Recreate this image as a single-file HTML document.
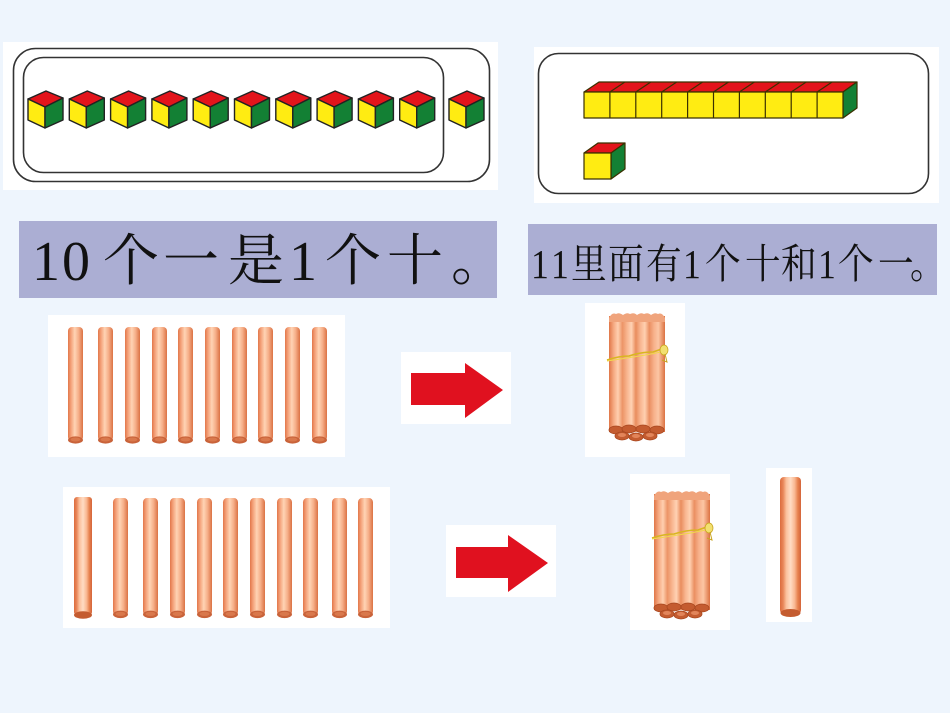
<!DOCTYPE html>
<html><head><meta charset="utf-8"><style>
html,body{margin:0;padding:0;background:#eef5fd;}
svg{display:block;}
</style></head><body>
<svg width="950" height="713" viewBox="0 0 950 713" xmlns="http://www.w3.org/2000/svg">
<defs>
<linearGradient id="st" x1="0" y1="0" x2="1" y2="0">
<stop offset="0" stop-color="#e2774a"/>
<stop offset="0.2" stop-color="#f4a27a"/>
<stop offset="0.45" stop-color="#ffd3b4"/>
<stop offset="0.7" stop-color="#f6b08a"/>
<stop offset="1" stop-color="#db7244"/>
</linearGradient>
<linearGradient id="big" x1="0" y1="0" x2="1" y2="0">
<stop offset="0" stop-color="#dc6c3e"/>
<stop offset="0.15" stop-color="#e9875a"/>
<stop offset="0.3" stop-color="#fbc09c"/>
<stop offset="0.5" stop-color="#ffdcc4"/>
<stop offset="0.7" stop-color="#f9b892"/>
<stop offset="0.85" stop-color="#e7824f"/>
<stop offset="1" stop-color="#d4643a"/>
</linearGradient>
<linearGradient id="bd" x1="0" y1="0" x2="1" y2="0">
<stop offset="0" stop-color="#e07648"/>
<stop offset="0.08" stop-color="#f5a880"/>
<stop offset="0.16" stop-color="#ffcfb0"/>
<stop offset="0.24" stop-color="#ec9466"/>
<stop offset="0.32" stop-color="#f8b48e"/>
<stop offset="0.40" stop-color="#ffd2b4"/>
<stop offset="0.48" stop-color="#e98d5e"/>
<stop offset="0.56" stop-color="#f8b590"/>
<stop offset="0.64" stop-color="#ffd0b0"/>
<stop offset="0.72" stop-color="#ea8f62"/>
<stop offset="0.80" stop-color="#f7b08a"/>
<stop offset="0.88" stop-color="#fcc6a4"/>
<stop offset="1" stop-color="#dc7242"/>
</linearGradient>
<g id="cube">
<polygon points="0,9 18,1 35,8 17,17" fill="#e3141b" stroke="#222" stroke-width="1.4" stroke-linejoin="round"/>
<polygon points="0,9 17,17 17,38 0,30" fill="#ffec12" stroke="#222" stroke-width="1.4" stroke-linejoin="round"/>
<polygon points="17,17 35,8 35,30 17,38" fill="#138034" stroke="#222" stroke-width="1.4" stroke-linejoin="round"/>
</g>
<g id="stick">
<rect x="0" y="0" width="15" height="114" rx="4" fill="url(#st)"/>
<ellipse cx="7.5" cy="113" rx="7.5" ry="3.6" fill="#c9633a"/>
<ellipse cx="7.5" cy="112.5" rx="5" ry="2" fill="#d9784c"/>
</g>
<g id="bundle">
<rect x="0" y="4" width="56" height="116" fill="url(#bd)"/>
<path d="M0,6 Q3,0 7,2 Q10,0 14,3 Q18,0 21,2 Q25,0 28,3 Q32,0 35,2 Q39,0 42,3 Q46,0 49,2 Q53,0 56,6 L56,10 L0,10 Z" fill="#f0a47c"/>
<g fill="#c45c30" stroke="#a8471f" stroke-width="0.8">
<ellipse cx="7" cy="118" rx="7" ry="4"/>
<ellipse cx="20" cy="117" rx="7" ry="4"/>
<ellipse cx="34" cy="117" rx="7" ry="4"/>
<ellipse cx="48" cy="118" rx="7" ry="4"/>
<ellipse cx="13" cy="124" rx="7" ry="4"/>
<ellipse cx="27" cy="125" rx="7" ry="4"/>
<ellipse cx="41" cy="124" rx="7" ry="4"/>
</g>
<g fill="#e2855a">
<ellipse cx="13" cy="123" rx="4" ry="2"/>
<ellipse cx="27" cy="124" rx="4" ry="2"/>
<ellipse cx="41" cy="123" rx="4" ry="2"/>
</g>
<path d="M-2,48 Q10,44 20,44 Q32,40 44,40 Q50,38 55,36" fill="none" stroke="#d9b620" stroke-width="1.6"/>
<path d="M-2,49 Q12,47 24,45 Q38,43 52,40" fill="none" stroke="#f0d84a" stroke-width="1"/>
<ellipse cx="55" cy="38" rx="4" ry="5" fill="#f2e070" stroke="#c8a520" stroke-width="0.8"/>
<path d="M56,42 L58,50 L53,48" fill="none" stroke="#c8a520" stroke-width="1"/>
</g>
</defs>

<!-- top-left panel -->
<rect x="3" y="42" width="495" height="148" fill="#fff"/>
<rect x="13.5" y="48.5" width="476" height="133" rx="22" fill="none" stroke="#333" stroke-width="1.6"/>
<rect x="23.5" y="57.5" width="420" height="115" rx="20" fill="none" stroke="#333" stroke-width="1.6"/>
<use href="#cube" x="28" y="90"/>
<use href="#cube" x="69.3" y="90"/>
<use href="#cube" x="110.6" y="90"/>
<use href="#cube" x="151.9" y="90"/>
<use href="#cube" x="193.2" y="90"/>
<use href="#cube" x="234.5" y="90"/>
<use href="#cube" x="275.8" y="90"/>
<use href="#cube" x="317.1" y="90"/>
<use href="#cube" x="358.4" y="90"/>
<use href="#cube" x="399.7" y="90"/>
<use href="#cube" x="449" y="90"/>

<!-- top-right panel -->
<rect x="534" y="47" width="405" height="156" fill="#fff"/>
<rect x="538.5" y="53.5" width="390" height="140" rx="20" fill="none" stroke="#333" stroke-width="1.6"/>
<g stroke="#3a3000" stroke-width="1.2" stroke-linejoin="round">
<polygon points="584,92 599,82 857,82 843,92" fill="#e3141b"/>
<polygon points="843,92 857,82 857,108 843,118" fill="#138034"/>
<rect x="584" y="92" width="259" height="26" fill="#ffec12"/>
<g fill="none">
<line x1="609.9" y1="92" x2="609.9" y2="118"/><line x1="635.8" y1="92" x2="635.8" y2="118"/>
<line x1="661.7" y1="92" x2="661.7" y2="118"/><line x1="687.6" y1="92" x2="687.6" y2="118"/>
<line x1="713.5" y1="92" x2="713.5" y2="118"/><line x1="739.4" y1="92" x2="739.4" y2="118"/>
<line x1="765.3" y1="92" x2="765.3" y2="118"/><line x1="791.2" y1="92" x2="791.2" y2="118"/>
<line x1="817.1" y1="92" x2="817.1" y2="118"/>
<line x1="609.9" y1="92" x2="624.9" y2="82"/><line x1="635.8" y1="92" x2="650.8" y2="82"/>
<line x1="661.7" y1="92" x2="676.7" y2="82"/><line x1="687.6" y1="92" x2="702.6" y2="82"/>
<line x1="713.5" y1="92" x2="728.5" y2="82"/><line x1="739.4" y1="92" x2="754.4" y2="82"/>
<line x1="765.3" y1="92" x2="780.3" y2="82"/><line x1="791.2" y1="92" x2="806.2" y2="82"/>
<line x1="817.1" y1="92" x2="832.1" y2="82"/>
</g>
<polygon points="584,153 598,143 625,143 611,153" fill="#e3141b"/>
<polygon points="611,153 625,143 625,169 611,179" fill="#138034"/>
<rect x="584" y="153" width="27" height="26" fill="#ffec12"/>
</g>

<!-- text boxes -->
<rect x="19" y="221" width="478" height="77" fill="#abaed3"/>
<text y="280" x="32 62 103 163 228 289 325 387 451" font-family="'Liberation Serif','Noto Serif CJK SC',serif" font-size="56" fill="#111">10个一是1个十。</text>

<rect x="528" y="224" width="409" height="71" fill="#abaed3"/>
<g transform="scale(0.87 1)">
<text y="278" x="610.3 633.3 656.3 698.9 742.5 785.1 810.3 856.3 897.7 940.2 963.2 1009.2 1046.0" font-family="'Liberation Serif','Noto Serif CJK SC',serif" font-size="41" fill="#111">11里面有1个十和1个一。</text>
</g>

<!-- row 1 sticks -->
<rect x="48" y="315" width="297" height="142" fill="#fff"/>
<use href="#stick" x="68" y="327"/>
<use href="#stick" x="98" y="327"/>
<use href="#stick" x="125" y="327"/>
<use href="#stick" x="152" y="327"/>
<use href="#stick" x="178" y="327"/>
<use href="#stick" x="205" y="327"/>
<use href="#stick" x="232" y="327"/>
<use href="#stick" x="258" y="327"/>
<use href="#stick" x="285" y="327"/>
<use href="#stick" x="312" y="327"/>

<!-- arrow 1 -->
<rect x="401" y="352" width="110" height="72" fill="#fff"/>
<polygon points="411,373 465,373 465,363 503,390 465,418 465,405 411,405" fill="#e0111f"/>

<!-- bundle 1 -->
<rect x="585" y="303" width="100" height="154" fill="#fff"/>
<use href="#bundle" x="609" y="312"/>

<!-- row 2 sticks -->
<rect x="63" y="487" width="327" height="141" fill="#fff"/>
<rect x="74" y="497" width="18" height="118" rx="3" fill="url(#big)"/>
<ellipse cx="83" cy="615" rx="9" ry="3.8" fill="#c45c30"/>
<g transform="translate(113 498) scale(1 1.03)"><use href="#stick"/></g>
<g transform="translate(143 498) scale(1 1.03)"><use href="#stick"/></g>
<g transform="translate(170 498) scale(1 1.03)"><use href="#stick"/></g>
<g transform="translate(197 498) scale(1 1.03)"><use href="#stick"/></g>
<g transform="translate(223 498) scale(1 1.03)"><use href="#stick"/></g>
<g transform="translate(250 498) scale(1 1.03)"><use href="#stick"/></g>
<g transform="translate(277 498) scale(1 1.03)"><use href="#stick"/></g>
<g transform="translate(303 498) scale(1 1.03)"><use href="#stick"/></g>
<g transform="translate(332 498) scale(1 1.03)"><use href="#stick"/></g>
<g transform="translate(358 498) scale(1 1.03)"><use href="#stick"/></g>

<!-- arrow 2 -->
<rect x="446" y="525" width="110" height="72" fill="#fff"/>
<polygon points="456,547 508,547 508,535 548,563 508,592 508,578 456,578" fill="#e0111f"/>

<!-- bundle 2 -->
<rect x="630" y="474" width="100" height="156" fill="#fff"/>
<use href="#bundle" x="654" y="490"/>

<!-- single stick -->
<rect x="766" y="468" width="46" height="154" fill="#fff"/>
<rect x="780" y="477" width="21" height="137" rx="4" fill="url(#big)"/>
<ellipse cx="790.5" cy="613" rx="10" ry="4" fill="#c45c30"/>
</svg>
</body></html>
